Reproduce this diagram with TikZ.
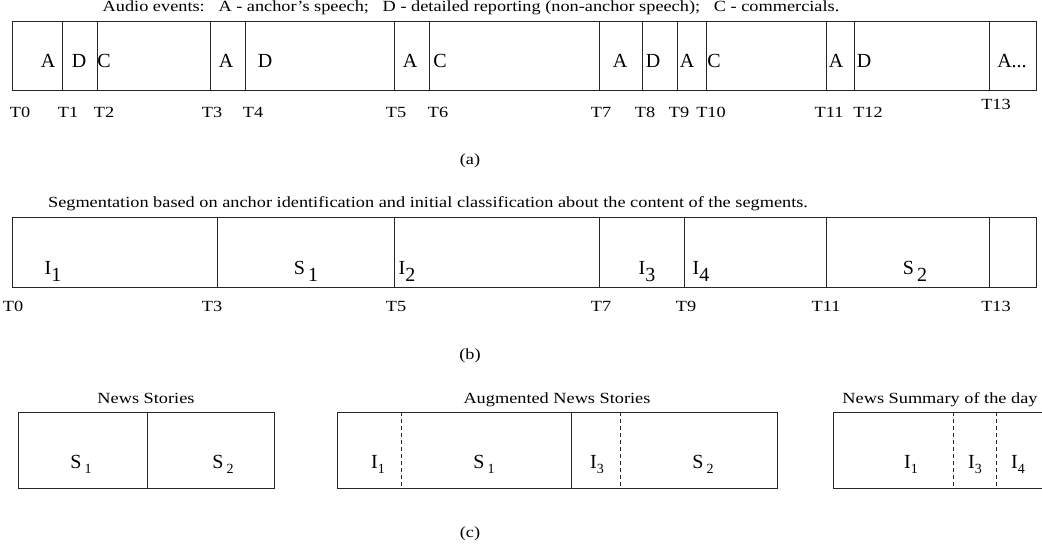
\documentclass[tikz,border=0pt]{standalone}
\usepackage{fontspec}
\setmainfont{Liberation Serif}
\newfontfamily\capfont[FakeStretch=1.18]{Liberation Serif}
\begin{document}
\begin{tikzpicture}[x=1pt,y=-1pt,
  box/.style={draw=black!85,line width=0.8pt},
  sep/.style={draw=black!85,line width=0.8pt},
  dsep/.style={draw=black!85,line width=0.8pt,dash pattern=on 4pt off 3pt},
  big/.style={font=\fontsize{20}{22}\selectfont,anchor=base,inner sep=0pt},
  small/.style={font=\capfont\fontsize{15.5}{17}\selectfont,anchor=base,inner sep=0pt},
  tl/.style={font=\capfont\fontsize{15.5}{17}\selectfont,anchor=base,inner sep=0pt}]
\useasboundingbox (0,0) rectangle (1042,548);
% ---------- (a)
\node[small] (ta) at (471,12) {Audio events:\ \ \ A - anchor’s speech;\ \ \ D - detailed reporting (non-anchor speech);\ \ \ C - commercials.};
\draw[box] (12,21) rectangle (1036,90);
\foreach \x in {62,97,210,245,394,429,599,642,677,706,826,854,989}
  \draw[sep] (\x,21) -- (\x,90);
\foreach \x/\t/\n in {48/A/a1,79/D/a2,104/C/a3,226/A/a4,265/D/a5,410/A/a6,440/C/a7,620/A/a8,653/D/a9,687/A/a10,714/C/a11,836/A/a12,864/D/a13}
  \node[big] (\n) at (\x,68) {\t};
\node[big] (a14) at (1012,68) {A...};
\foreach \x/\t in {20/0,68/1,104/2,212/3,253/4,396/5,438/6,601/7,645/8,679/9,711/10,829/11,868/12}
  \node[tl] (ta\t) at (\x,118) {T\t};
\node[tl] (ta13) at (996,110) {T13};
\node[small] (capa) at (470,165) {(a)};
% ---------- (b)
\node[small] (tb) at (428,208) {Segmentation based on anchor identification and initial classification about the content of the segments.};
\draw[box] (12,217) rectangle (1036,287);
\foreach \x in {217,394,599,684,826,989}
  \draw[sep] (\x,217) -- (\x,287);
\node[big] (b1) at (53,275) {I\raisebox{-6pt}{1}};
\node[big] (b2) at (306,275) {S\,\raisebox{-6pt}{1}};
\node[big] (b3) at (407,275) {I\raisebox{-6pt}{2}};
\node[big] (b4) at (647,275) {I\raisebox{-6pt}{3}};
\node[big] (b5) at (701,275) {I\raisebox{-6pt}{4}};
\node[big] (b6) at (915,275) {S\,\raisebox{-6pt}{2}};
\foreach \x/\t in {13/0,212/3,396/5,601/7,686/9,826/11,996/13}
  \node[tl] (tb\t) at (\x,312) {T\t};
\node[small] (capb) at (470,359) {(b)};
% ---------- (c)
\node[small] (tc1) at (146,403) {News Stories};
\node[small] (tc2) at (557,403) {Augmented News Stories};
\node[small] (tc3) at (940,403) {News Summary of the day};
\draw[box] (18,412) rectangle (274,488);
\draw[sep] (147,412) -- (147,488);
\node[big] (c1) at (81,468) {S\,{\fontsize{14}{14}\selectfont\raisebox{-5pt}{1}}};
\node[big] (c2) at (223,468) {S\,{\fontsize{14}{14}\selectfont\raisebox{-5pt}{2}}};
\draw[box] (337,412) rectangle (777,488);
\draw[sep] (571,412) -- (571,488);
\draw[dsep] (401,412) -- (401,488);
\draw[dsep] (620,412) -- (620,488);
\node[big] (c3) at (378,468) {I{\fontsize{14}{14}\selectfont\raisebox{-5pt}{1}}};
\node[big] (c4) at (484,468) {S\,{\fontsize{14}{14}\selectfont\raisebox{-5pt}{1}}};
\node[big] (c5) at (597,468) {I{\fontsize{14}{14}\selectfont\raisebox{-5pt}{3}}};
\node[big] (c6) at (703,468) {S\,{\fontsize{14}{14}\selectfont\raisebox{-5pt}{2}}};
\draw[box] (1043,412) -- (833,412) -- (833,488) -- (1043,488);
\draw[dsep] (953,412) -- (953,488);
\draw[dsep] (996,412) -- (996,488);
\node[big] (c7) at (911,468) {I{\fontsize{14}{14}\selectfont\raisebox{-5pt}{1}}};
\node[big] (c8) at (975,468) {I{\fontsize{14}{14}\selectfont\raisebox{-5pt}{3}}};
\node[big] (c9) at (1018,468) {I{\fontsize{14}{14}\selectfont\raisebox{-5pt}{4}}};
\node[small] (capc) at (470,537) {(c)};
\end{tikzpicture}
\end{document}
